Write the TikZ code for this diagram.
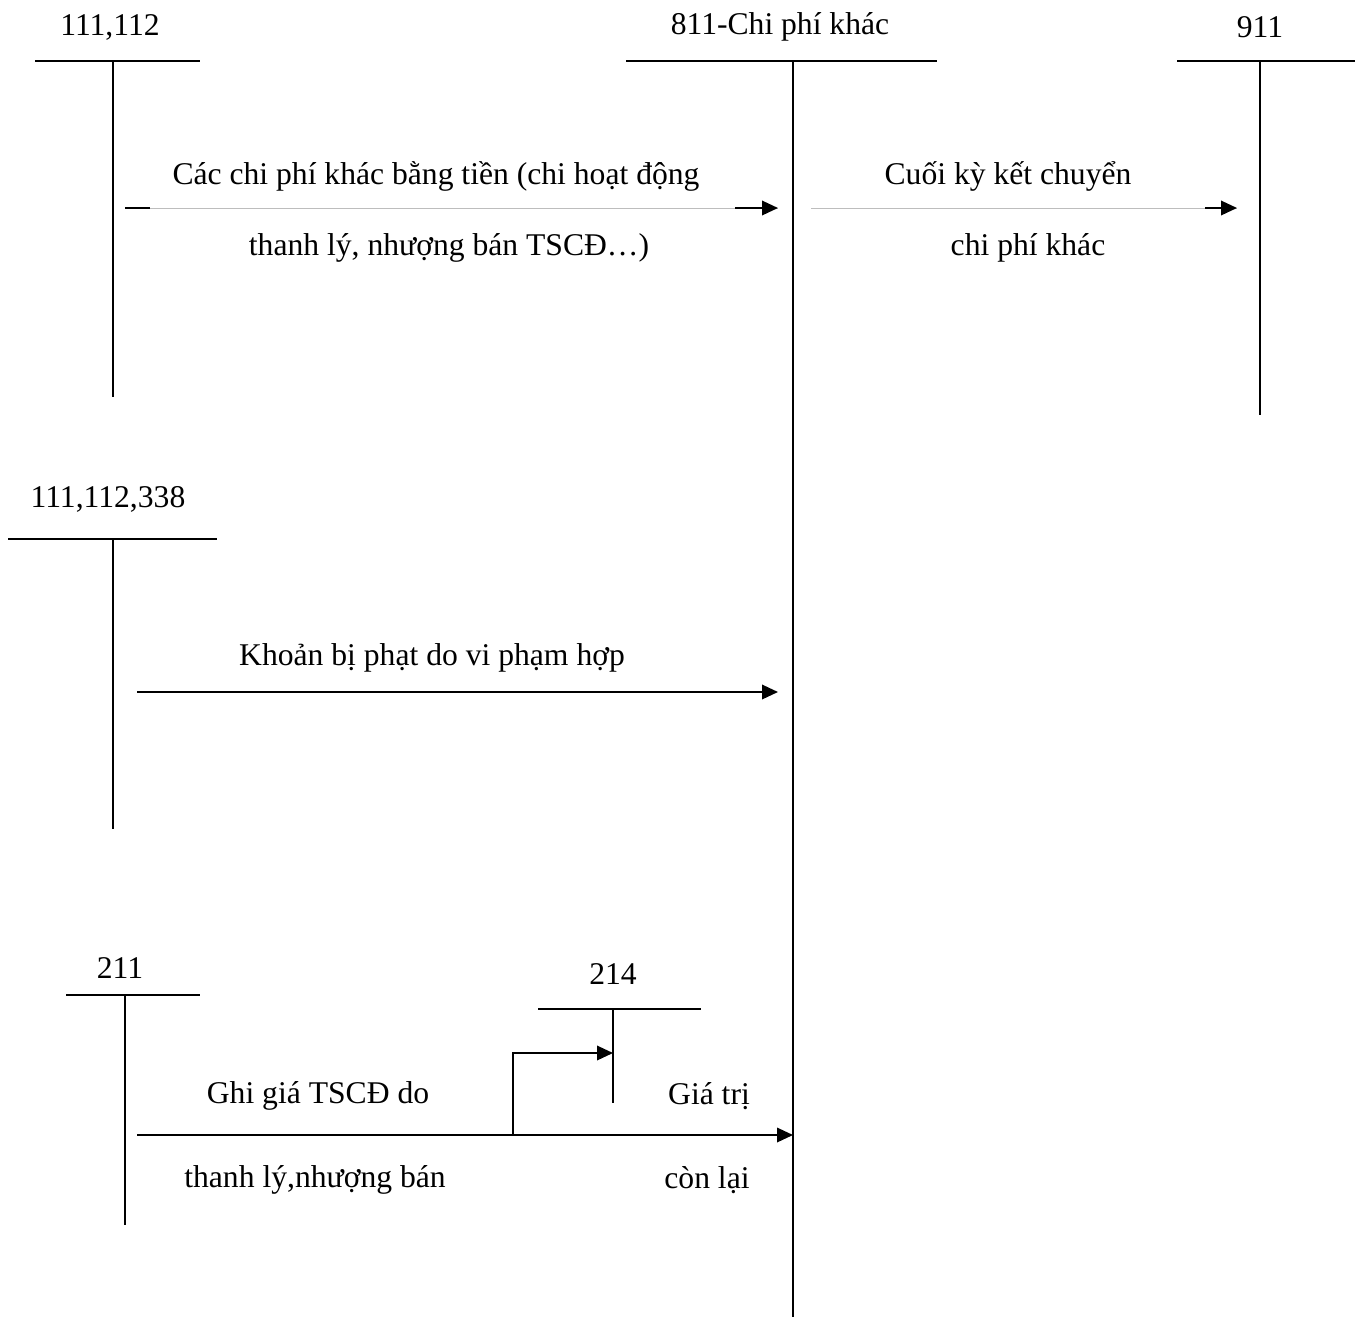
\documentclass[tikz,border=0pt]{standalone}
\usepackage{fontspec}
\setmainfont{Liberation Serif}
\usetikzlibrary{arrows.meta, positioning, calc}
\definecolor{hairline}{HTML}{BDBDBD}

\begin{document}
\begin{tikzpicture}[
    x=0.02cm, y=-0.02cm,
    lbl/.style={font=\fontsize{18}{22}\selectfont, inner sep=0pt, yshift=-0.06cm},
    ln/.style={line width=1.1pt},
    thin/.style={line width=0.5pt, hairline},
    arr/.style={-{Triangle[length=3.2mm, width=2.9mm]}, line width=1.1pt}
]
    \useasboundingbox (0,0) rectangle (1359,1325);

    % T-accounts: name, top line, vertical line
    \node[lbl] (t1) at (110,24)  {111,112};
    \node[lbl] (t2) at (780,24)  {811-Chi phí khác};
    \node[lbl] (t3) at (1260,24) {911};
    \node[lbl] (t4) at (108,496) {111,112,338};
    \node[lbl] (t5) at (120,965) {211};
    \node[lbl] (t6) at (613,971) {214};

    \draw[ln] (35,61) -- (200,61);     \draw[ln] (113,61) -- (113,397);
    \draw[ln] (626,61) -- (937,61);    \draw[ln] (793,61) -- (793,1317);
    \draw[ln] (1177,61) -- (1355,61);  \draw[ln] (1260,61) -- (1260,415);
    \draw[ln] (8,539) -- (217,539);    \draw[ln] (113,539) -- (113,829);
    \draw[ln] (66,995) -- (200,995);   \draw[ln] (125,995) -- (125,1225);
    \draw[ln] (538,1009) -- (701,1009); \draw[ln] (613,1009) -- (613,1103);

    % arrow ends
    \coordinate (a1s) at (125,208);  \coordinate (a1e) at (778,208);
    \coordinate (a2s) at (811,208);  \coordinate (a2e) at (1237,208);
    \coordinate (a3s) at (137,692);  \coordinate (a3e) at (778,692);
    \coordinate (a4s) at (137,1135); \coordinate (a4e) at (793,1135);
    \coordinate (a5s) at (513,1135); \coordinate (a5e) at (613,1053);

    \draw[thin] (a1s) -- (a1e);
    \draw[ln] (a1s) -- ++(25,0);
    \draw[arr] ($(a1e)+(-43,0)$) -- (a1e);
    \node[lbl] (l1a) at (436,173) {Các chi phí khác bằng tiền (chi hoạt động};
    \node[lbl] (l1b) at (449,245) {thanh lý, nhượng bán TSCĐ…)};

    \draw[thin] (a2s) -- (a2e);
    \draw[arr] ($(a2e)+(-32,0)$) -- (a2e);
    \node[lbl] (l2a) at (1008,173) {Cuối kỳ kết chuyển};
    \node[lbl] (l2b) at (1028,245) {chi phí khác};

    \draw[arr] (a3s) -- (a3e);
    \node[lbl] (l3) at (432,655) {Khoản bị phạt do vi phạm hợp};

    \draw[arr] (a4s) -- (a4e);
    \draw[arr] (a5s) |- (a5e);
    \node[lbl] (l4a) at (318,1093) {Ghi giá TSCĐ do};
    \node[lbl] (l4b) at (315,1177) {thanh lý,nhượng bán};
    \node[lbl] (l5a) at (709,1093) {Giá trị};
    \node[lbl] (l5b) at (707,1177) {còn lại};
\end{tikzpicture}
\end{document}
